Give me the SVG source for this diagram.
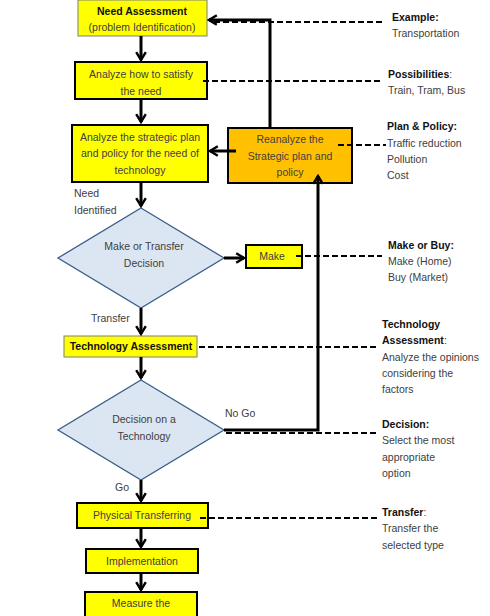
<svg xmlns="http://www.w3.org/2000/svg" width="490" height="616" viewBox="0 0 490 616">
<defs>
<style>
text{font-family:"Liberation Sans",Arial,sans-serif;font-size:10.5px;fill:#404040}
.c{text-anchor:middle}
.b{font-weight:bold;fill:#111}
.y{fill:#FFFF00;stroke:#000;stroke-width:2}
.yt{fill:#FFFF00;stroke:#7f7f7f;stroke-width:1}
.d{fill:#DCE6F2;stroke:#385D8A;stroke-width:1.3}
.o{fill:#FFC000;stroke:#000;stroke-width:2}
.a{stroke:#000;stroke-width:3;fill:none}
.ds{stroke:#000;stroke-width:2;fill:none;stroke-dasharray:6,3}
</style>
<marker id="ah" viewBox="0 0 10 10" refX="8" refY="5" markerWidth="4" markerHeight="4" orient="auto" markerUnits="strokeWidth">
<path d="M1.5,1 L8,5 L1.5,9" fill="none" stroke="#000" stroke-width="2"/>
</marker>
</defs>
<rect width="490" height="616" fill="#fff"/>

<g id="need-assessment">
<rect class="yt" x="78" y="0" width="129" height="36"/>
<text class="c b" x="142" y="15">Need Assessment</text>
<text class="c" x="142" y="31">(problem Identification)</text>
</g>
<g id="analyze-need">
<rect class="y" x="75" y="62" width="132" height="37"/>
<text class="c" x="141" y="78">Analyze how to satisfy</text>
<text class="c" x="141" y="95">the need</text>
</g>
<g id="analyze-plan">
<rect class="y" x="72" y="125" width="136" height="57"/>
<text class="c" x="140" y="141">Analyze the strategic plan</text>
<text class="c" x="140" y="157">and policy for the need of</text>
<text class="c" x="140" y="174">technology</text>
</g>
<g id="reanalyze">
<rect class="o" x="228" y="128" width="124" height="55"/>
<text class="c" x="290" y="143">Reanalyze the</text>
<text class="c" x="290" y="160">Strategic plan and</text>
<text class="c" x="290" y="176">policy</text>
</g>
<g id="need-identified-label">
<text x="74" y="197">Need</text>
<text x="74" y="214">Identified</text>
</g>
<g id="make-or-transfer">
<polygon class="d" points="141,208 224,258 141,308 58,258"/>
<text class="c" x="144" y="250">Make or Transfer</text>
<text class="c" x="144" y="267">Decision</text>
</g>
<g id="make">
<rect class="y" x="246" y="245" width="56" height="23"/>
<text class="c" x="272" y="260">Make</text>
</g>
<g id="transfer-label"><text x="91" y="322">Transfer</text></g>
<g id="technology-assessment">
<rect class="yt" x="64" y="336" width="133" height="21"/>
<text class="c b" x="131" y="350">Technology Assessment</text>
</g>
<g id="decision-technology">
<polygon class="d" points="141,380 224,430 141,480 58,430"/>
<text class="c" x="144" y="423">Decision on a</text>
<text class="c" x="144" y="440">Technology</text>
</g>
<g id="nogo-label"><text x="225" y="417">No Go</text></g>
<g id="go-label"><text x="115" y="491">Go</text></g>
<g id="physical-transferring">
<rect class="y" x="77" y="503" width="131" height="25"/>
<text class="c" x="142" y="519">Physical Transferring</text>
</g>
<g id="implementation">
<rect class="y" x="86" y="549" width="112" height="24"/>
<text class="c" x="142" y="565">Implementation</text>
</g>
<g id="measure">
<rect class="y" x="85" y="592" width="112" height="30"/>
<text class="c" x="141" y="607">Measure the</text>
</g>

<g id="connectors">
<line class="a" x1="141" y1="36" x2="141" y2="60" marker-end="url(#ah)"/>
<line class="a" x1="141" y1="99" x2="141" y2="122" marker-end="url(#ah)"/>
<line class="a" x1="141" y1="182" x2="141" y2="206" marker-end="url(#ah)"/>
<line class="a" x1="224" y1="258" x2="244" y2="258" marker-end="url(#ah)"/>
<line class="a" x1="141" y1="308" x2="141" y2="334" marker-end="url(#ah)"/>
<line class="a" x1="141" y1="357" x2="141" y2="378" marker-end="url(#ah)"/>
<line class="a" x1="141" y1="480" x2="141" y2="501" marker-end="url(#ah)"/>
<line class="a" x1="141" y1="528" x2="141" y2="547" marker-end="url(#ah)"/>
<line class="a" x1="141" y1="573" x2="141" y2="590" marker-end="url(#ah)"/>
<line class="a" x1="236" y1="151" x2="210" y2="151" marker-end="url(#ah)"/>
<polyline class="a" points="270,128 270,20 209,20" marker-end="url(#ah)"/>
<polyline class="a" points="224,430 318,430 318,176" marker-end="url(#ah)"/>
<line class="ds" x1="214" y1="22" x2="385" y2="22"/>
<line class="ds" x1="203" y1="81" x2="382" y2="81"/>
<line class="ds" x1="338" y1="145" x2="386" y2="145"/>
<line class="ds" x1="296" y1="256" x2="382" y2="256"/>
<line class="ds" x1="199" y1="347" x2="377" y2="347"/>
<line class="ds" x1="226" y1="433" x2="376" y2="433"/>
<line class="ds" x1="200" y1="518" x2="378" y2="518"/>
</g>

<g id="note-example">
<text class="b" x="392" y="21">Example:</text>
<text x="392" y="37">Transportation</text>
</g>
<g id="note-possibilities">
<text x="388" y="78"><tspan class="b">Possibilities</tspan>:</text>
<text x="388" y="94">Train, Tram, Bus</text>
</g>
<g id="note-plan">
<text class="b" x="387" y="130">Plan &amp; Policy:</text>
<text x="387" y="147">Traffic reduction</text>
<text x="387" y="163">Pollution</text>
<text x="387" y="179">Cost</text>
</g>
<g id="note-make">
<text class="b" x="388" y="249">Make or Buy:</text>
<text x="388" y="265">Make (Home)</text>
<text x="388" y="281">Buy (Market)</text>
</g>
<g id="note-tech">
<text class="b" x="382" y="328">Technology</text>
<text x="382" y="344"><tspan class="b">Assessment</tspan>:</text>
<text x="382" y="361">Analyze the opinions</text>
<text x="382" y="377">considering the</text>
<text x="382" y="393">factors</text>
</g>
<g id="note-decision">
<text class="b" x="382" y="428">Decision:</text>
<text x="382" y="444">Select the most</text>
<text x="382" y="461">appropriate</text>
<text x="382" y="477">option</text>
</g>
<g id="note-transfer">
<text x="382" y="516"><tspan class="b">Transfer</tspan>:</text>
<text x="382" y="532">Transfer the</text>
<text x="382" y="549">selected type</text>
</g>
</svg>
